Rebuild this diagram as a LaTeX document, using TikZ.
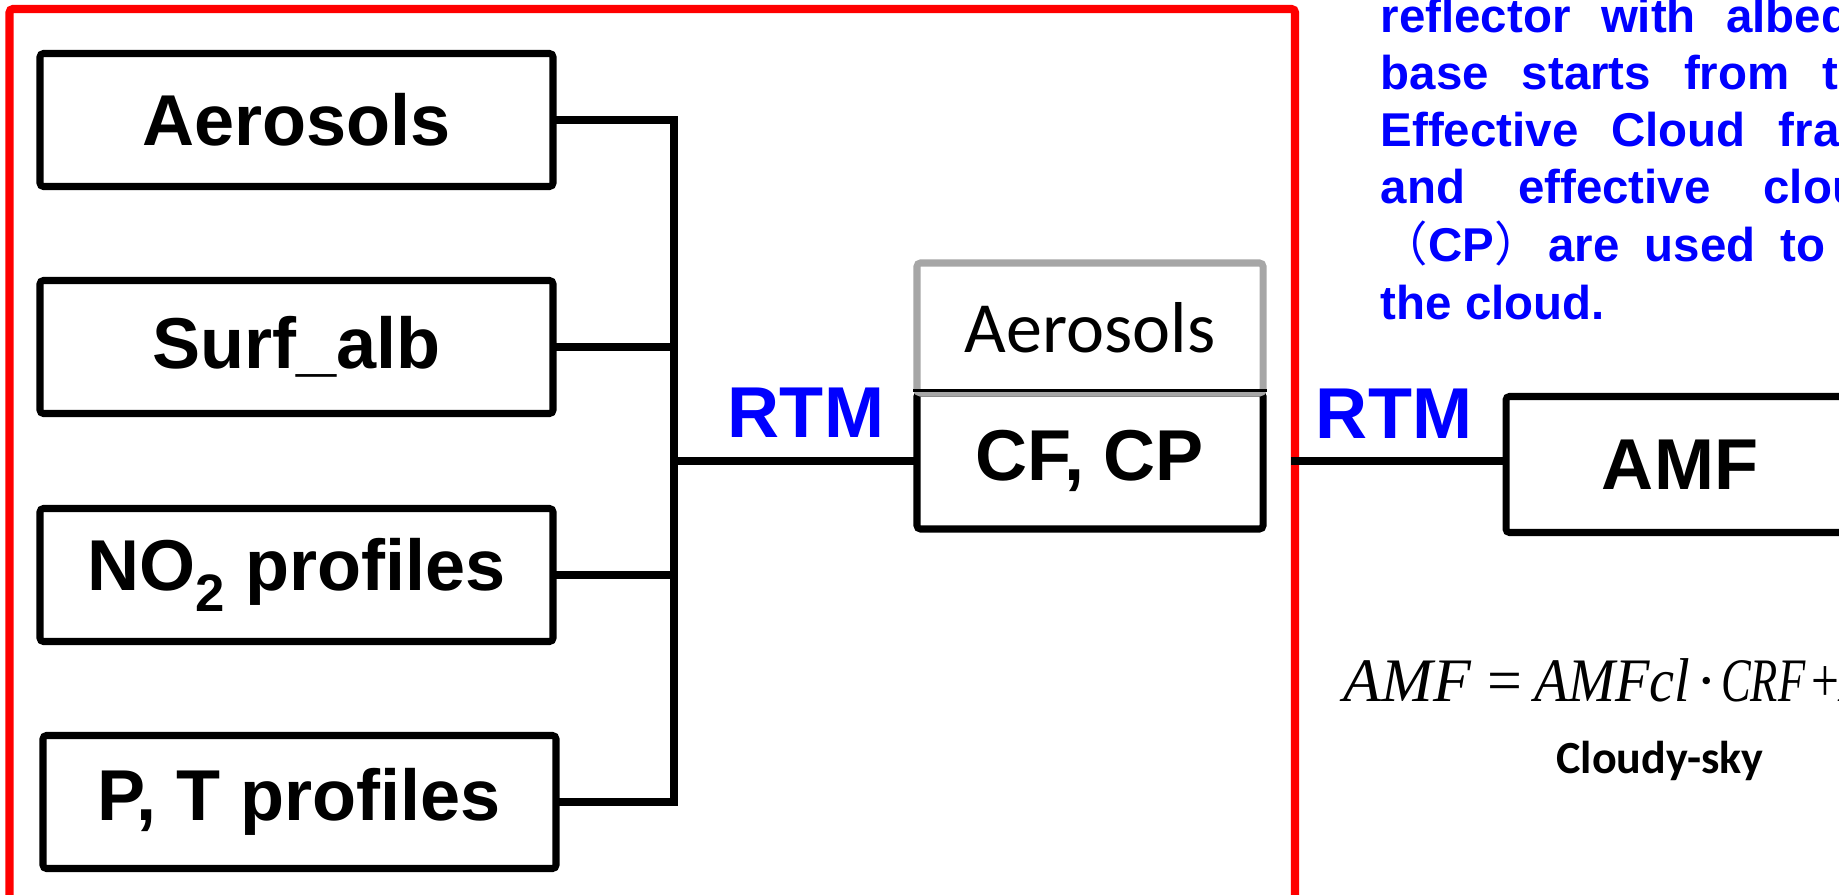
\documentclass[tikz,border=0pt]{standalone}
\usepackage{fontspec}
\setmainfont{Liberation Sans}
\newfontfamily\calibri{Carlito}
\newfontfamily\timesf{Liberation Serif}
\newfontfamily\cjk{Noto Sans CJK SC}
\definecolor{boxgray}{RGB}{166,166,166}
\definecolor{txtblue}{RGB}{0,0,255}

\begin{document}
\begin{tikzpicture}[
  x=1cm, y=1cm,
  inbox/.style={rectangle, rounded corners=1pt, draw=black, line width=2pt,
                minimum width=5.13cm, minimum height=1.33cm, inner sep=0pt,
                font=\fontsize{20.5}{24}\selectfont\bfseries},
  graybox/.style={rectangle, rounded corners=1pt, draw=boxgray, line width=2pt,
                  minimum width=3.46cm, minimum height=1.30cm, inner sep=0pt,
                  font=\fontsize{20.5}{24}\selectfont\calibri},
  outbox/.style={rectangle, rounded corners=1pt, draw=black, line width=2pt,
                 minimum height=1.36cm, inner sep=0pt,
                 font=\fontsize{20.5}{24}\selectfont\bfseries},
  rtm/.style={anchor=base, text=txtblue, font=\fontsize{20.5}{24}\selectfont\bfseries},
  note/.style={anchor=base west, inner sep=0pt, text=txtblue,
               font=\fontsize{13.5}{16}\selectfont\bfseries},
  wire/.style={line width=2.3pt, line cap=rect},
  redframe/.style={draw=red, line width=2.3pt, rounded corners=1pt}
]
\useasboundingbox (0,0) rectangle (18.39,-8.95);
\clip (0,0) rectangle (18.39,-8.95);

% cornice rossa
\draw[redframe] (0.095,-0.09) rectangle (12.95,-10.5);

% ingressi
\node[inbox] (aer)  at (2.965,-1.20) {Aerosols};
\node[inbox] (surf) at (2.965,-3.47) {Surf\_alb};
\node[inbox] (no2)  at (2.965,-5.75) {NO\raisebox{-6pt}{\fontsize{15}{15}\selectfont 2} profiles};
\node[inbox] (pt)   at (2.995,-8.02) {P, T profiles};
\coordinate (bus) at (6.74,-4.61);

% nuvole
\node[outbox, minimum width=3.46cm] (cfcp) at (10.90,-4.61) {CF, CP};
\node[graybox] (aerc) at (10.90,-3.28) {Aerosols};
\draw[line width=0.8pt] ([yshift=1.6pt]aerc.south west) -- ([yshift=1.6pt]aerc.south east);
\node[outbox, minimum width=3.48cm] (amf) at (16.80,-4.645) {AMF};
\coordinate (rf) at (12.95,-4.61);

% collegamenti
\draw[wire] (aer.east) -| (bus);
\draw[wire] (pt.east) -| (bus);
\draw[wire] (surf.east) -- (surf.east -| bus);
\draw[wire] (no2.east) -- (no2.east -| bus);
\draw[wire] (bus) -- (cfcp.west);
\draw[wire] (rf) -- (rf -| amf.west);

% etichette RTM
\node[rtm] (rtm1) at (8.06,-4.37) {RTM};
\node[rtm] (rtm2) at (13.94,-4.38) {RTM};

% testo descrittivo
\node[note] (n1) at (13.80,-0.33) {reflector\hspace{0.305cm}with\hspace{0.305cm}albedo};
\node[note] (n2) at (13.80,-0.90) {base\hspace{0.33cm}starts\hspace{0.33cm}from\hspace{0.33cm}the};
\node[note] (n3) at (13.80,-1.47) {Effective\hspace{0.33cm}Cloud\hspace{0.33cm}fraction};
\node[note] (n4) at (13.80,-2.04) {and\hspace{0.53cm}effective\hspace{0.53cm}cloud};
\node[note] (n5) at (13.80,-2.62) {{\cjk\mdseries （}CP{\cjk\mdseries ）}\hspace{0.07cm}are\hspace{0.25cm}used\hspace{0.25cm}to};
\node[note] (n6) at (13.80,-3.19) {the cloud.};

% formula
\node[anchor=base west, inner sep=0pt, font=\fontsize{17.6}{20}\selectfont\timesf] (eq) at (13.43,-7.01)
  {\textit{AMF}\hspace{0.16cm}=\hspace{0.12cm}\scalebox{0.91}[1]{\textit{AMFcl}}\hspace{0.06cm}·\hspace{0.04cm}\scalebox{0.72}[1]{\textit{CRF}}\hspace{0.06cm}\scalebox{0.8}[1]{+}\hspace{0.02cm}\textit{A}};
\node[anchor=base, inner sep=0pt, font=\fontsize{13.1}{16}\selectfont\calibri\bfseries] (sky) at (16.60,-7.73) {Cloudy-sky};
\end{tikzpicture}
\end{document}
